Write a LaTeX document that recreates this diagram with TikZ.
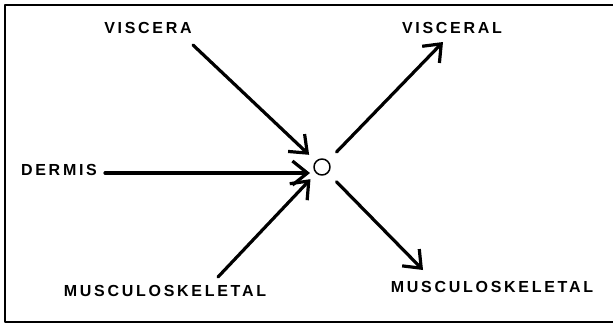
\documentclass[tikz,border=0pt]{standalone}
\usepackage{fontspec}
\usepackage{tikz}
\usetikzlibrary{arrows.meta}
\newfontfamily\labelfont[LetterSpace=17]{Liberation Sans}

\begin{document}
\begin{tikzpicture}[
    x=1pt, y=-1pt,
    line cap=round,
    line join=round,
    lbl/.style={font=\labelfont\bfseries\fontsize{16}{18}\selectfont, inner sep=1pt},
    arr/.style={line width=3.2pt, -{Straight Barb[length=15pt,width=24pt]}}
]

\useasboundingbox (0,0) rectangle (613,325);

% Cornice
\draw[line width=1.4pt] (613,5) -- (5,5) -- (5,322) -- (613,322);

% Etichette
\node[lbl] (viscera) at (148,28) {VISCERA};
\node[lbl] (dermis) at (59,170) {DERMIS};
\node[lbl] (muscin) at (165,291) {MUSCULOSKELETAL};
\node[lbl] (visceral) at (452,28) {VISCERAL};
\node[lbl] (muscout) at (492,287) {MUSCULOSKELETAL};

% Cerchio centrale
\node[draw, circle, line width=1.5pt, minimum size=16pt, inner sep=0pt] (hub) at (322,167) {};

% Estremi liberi
\coordinate (vin) at (193,45);
\coordinate (din) at (105,173);
\coordinate (min) at (218,277);
\coordinate (vout) at (443,42);
\coordinate (mout) at (423,270);

% Frecce entranti
\draw[arr, shorten >=9pt] (vin) -- (hub);
\draw[arr, shorten >=12pt] (din) -- (din -| hub);
\draw[arr, shorten >=8pt] (min) -- (hub);

% Frecce uscenti
\draw[arr, shorten <=12pt] (hub) -- (vout);
\draw[arr, shorten <=12pt] (hub) -- (mout);

\end{tikzpicture}
\end{document}
